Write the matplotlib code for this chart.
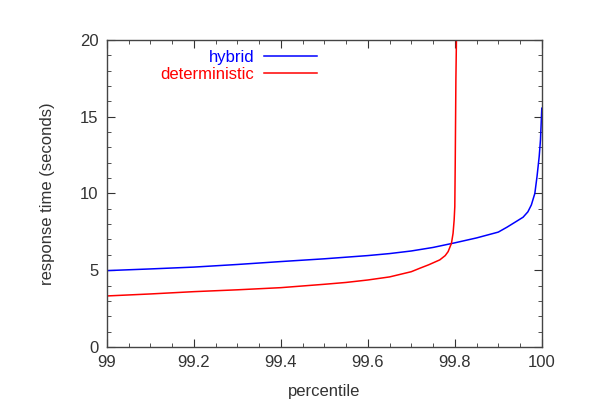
import matplotlib
matplotlib.use('Agg')
import matplotlib.pyplot as plt
from matplotlib.ticker import MultipleLocator

plt.rcParams['font.family'] = ['Liberation Sans', 'DejaVu Sans']

# ── Data ──────────────────────────────────────────────────────────────────
hybrid_pct = [99.0, 99.1, 99.2, 99.3, 99.4, 99.5, 99.6, 99.65, 99.7, 99.75,
              99.8, 99.85, 99.9, 99.92, 99.94, 99.957, 99.968, 99.976,
              99.984, 99.989, 99.994, 99.997, 100.0]
hybrid_rt = [4.97, 5.08, 5.2, 5.37, 5.56, 5.74, 5.95, 6.08, 6.25, 6.48,
             6.78, 7.1, 7.48, 7.8, 8.15, 8.45, 8.8, 9.25,
             10.0, 11.1, 12.4, 13.5, 15.55]

det_pct = [99.0, 99.1, 99.2, 99.3, 99.4, 99.5, 99.55, 99.6, 99.65, 99.7,
           99.72, 99.74, 99.7655, 99.778, 99.7847, 99.7923, 99.796, 99.7985,
           99.800, 99.801, 99.8025, 99.804]
det_rt = [3.32, 3.45, 3.6, 3.72, 3.86, 4.08, 4.2, 4.36, 4.56, 4.9,
          5.13, 5.35, 5.67, 5.95, 6.21, 6.75, 7.4, 8.27,
          9.14, 12.0, 17.4, 20.5]

xticks = [99, 99.2, 99.4, 99.6, 99.8, 100]
xtick_labels = ['99', '99.2', '99.4', '99.6', '99.8', '100']

# ── Plot ──────────────────────────────────────────────────────────────────
fig = plt.figure(figsize=(6, 4.2), dpi=100)
ax = fig.add_axes([0.178, 0.174, 0.725, 0.731])

ax.plot(hybrid_pct, hybrid_rt, color='#0000ff', lw=1.1, label='hybrid')
ax.plot(det_pct, det_rt, color='#ff0000', lw=1.1, label='deterministic')

ax.set_xlim(99, 100)
ax.set_ylim(0, 20)
ax.set_xticks(xticks)
ax.set_xticklabels(xtick_labels)
ax.xaxis.set_minor_locator(MultipleLocator(0.05))
ax.yaxis.set_major_locator(MultipleLocator(5))
ax.yaxis.set_minor_locator(MultipleLocator(1))

ax.tick_params(which='both', direction='in', top=True, right=True,
               color='#333333', labelsize=12, labelcolor='#333333', pad=6)
ax.tick_params(which='major', length=6)
ax.tick_params(which='minor', length=3)
for s in ax.spines.values():
    s.set_color('#444444')
    s.set_linewidth(1.0)

ax.set_xlabel('percentile', fontsize=12, color='#333333', labelpad=10)
ax.set_ylabel('response time (seconds)', fontsize=12, color='#333333', labelpad=18)

ax.legend(loc='upper left', bbox_to_anchor=(0.1, 1.0), frameon=False,
          markerfirst=False, handlelength=3.2, handletextpad=0.6, fontsize=12,
          labelcolor='linecolor', borderaxespad=0.2, labelspacing=0.1)

fig.savefig('out.png', dpi=100)
